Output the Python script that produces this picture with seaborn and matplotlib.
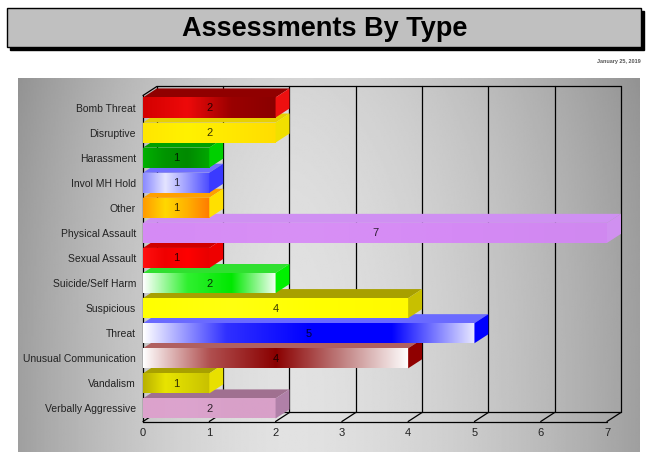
import numpy as np
import pandas as pd
import matplotlib
matplotlib.use('Agg')
import matplotlib.pyplot as plt
from matplotlib.colors import LinearSegmentedColormap, to_rgb
from matplotlib.patches import Polygon, Rectangle
import seaborn as sns

# data
types = ['Bomb Threat', 'Disruptive', 'Harassment', 'Invol MH Hold', 'Other',
         'Physical Assault', 'Sexual Assault', 'Suicide/Self Harm', 'Suspicious',
         'Threat', 'Unusual Communication', 'Vandalism', 'Verbally Aggressive']
counts = [2, 2, 1, 1, 1, 7, 1, 2, 4, 5, 4, 1, 2]
x_ticks = [0, 1, 2, 3, 4, 5, 6, 7]
title = 'Assessments By Type'
date_text = 'January 25, 2019'

# face gradients (left -> right), top face colour, side face colour
face_stops = [
    ['#d40000', '#ee0a0a', '#9a0000', '#8a0000'],
    ['#ffe600', '#fff200', '#ffe800', '#ffdd00'],
    ['#00b000', '#009400', '#008a00', '#00a800'],
    ['#8a8aff', '#e4e4ff', '#9a9aff', '#4a4aff'],
    ['#ff9a00', '#ffd800', '#ffb000', '#ff7a00'],
    ['#d58af5', '#d890f5', '#d58af5', '#d088f0'],
    ['#ff1010', '#f00000', '#ff0000', '#e80000'],
    ['#ffffff', '#30f030', '#00e800', '#f4fff4'],
    ['#ffff00', '#ffff10', '#ffff00', '#fffa00'],
    ['#ffffff', '#3030ff', '#0000ff', '#0000ff', '#e8e8ff'],
    ['#ffffff', '#b05050', '#8a0000', '#c08080', '#ffffff'],
    ['#b8b000', '#e8e400', '#d8d400', '#c8c000'],
    ['#dca2cc', '#dca4ce', '#d8a0c8', '#d8a0c8'],
]
top_colors = ['#900000', '#e8d000', '#00a000', '#7070ff', '#ffa000', '#cf90f2',
              '#d00000', '#30e030', '#a8a000', '#6a6aff', '#b06060', '#a8a000', '#a07090']
side_colors = ['#ee1010', '#f0e000', '#00d000', '#3a3aff', '#ffe000', '#d090f0',
               '#ee0000', '#00f000', '#c8c000', '#0000ff', '#900000', '#e8e000', '#b080a8']

sns.set_style('white')
plt.rcParams['font.family'] = ['Liberation Sans', 'DejaVu Sans']

W, H = 647, 467
fig = plt.figure(figsize=(W / 100, H / 100), dpi=100)

# background layer in pixel coordinates
bg = fig.add_axes([0, 0, 1, 1])
bg.set_xlim(0, W)
bg.set_ylim(H, 0)
bg.axis('off')

bg.add_patch(Rectangle((10, 11), 634, 39, facecolor='black', edgecolor='black', lw=1))
bg.add_patch(Rectangle((7, 8), 634, 39, facecolor='#c0c0c0', edgecolor='black', lw=1))
bg.text(325, 29, title, ha='center', va='center', fontsize=19.5, fontweight='bold', color='black')
bg.text(641, 62, date_text, ha='right', va='center', fontsize=4, fontweight='bold', color='#555555')

u = np.linspace(0, 1, 400)
v = np.linspace(0, 1, 240)
U, V = np.meshgrid(u, v)
c = 0.44
dist = np.where(U < c, (c - U) / c, (U - c) / (1 - c))
light = 0.885 - 0.26 * dist ** 1.6 - 0.05 * (1 - V) ** 3
bg.imshow(light, cmap='gray', vmin=0, vmax=1, extent=(18, 640, 452, 78),
          aspect='auto', interpolation='bilinear')

# main plot axes
x0px, x7px = 143, 607
ppu = (x7px - x0px) / 7
xmax = 7.25
yc0, ystep = 107.5, 25.08
ylo, yhi = 12.55, -0.9
bottom_px = yc0 + ylo * ystep
top_px = yc0 + yhi * ystep
ax = fig.add_axes([x0px / W, 1 - bottom_px / H, xmax * ppu / W, (bottom_px - top_px) / H])
ax.patch.set_alpha(0)

df = pd.DataFrame({'type': types, 'count': counts})
mid_colors = [s[len(s) // 2] for s in face_stops]
sns.barplot(data=df, x='count', y='type', hue='type', palette=mid_colors, legend=False,
            orient='h', width=0.8, saturation=1, linewidth=0, ax=ax)

dx, dy = 0.21, -0.36
n = len(types)
for i, p in enumerate(ax.patches):
    z = 10 + (n - i) * 3
    xa, ya = p.get_x(), p.get_y()
    w, h = p.get_width(), p.get_height()
    p.set_zorder(z)
    cmap = LinearSegmentedColormap.from_list('g%d' % i, face_stops[i])
    grad = np.linspace(0, 1, 256)[None, :]
    shade = cmap(grad)
    im = ax.imshow(shade, extent=[xa, xa + w, ya + h, ya], aspect='auto',
                   interpolation='bilinear', zorder=z + 0.1)
    im.set_clip_path(p)
    ax.add_patch(Polygon([(xa, ya), (xa + w, ya), (xa + w + dx, ya + dy), (xa + dx, ya + dy)],
                         closed=True, facecolor=top_colors[i], edgecolor='none', zorder=z))
    ax.add_patch(Polygon([(xa + w, ya), (xa + w, ya + h), (xa + w + dx, ya + h + dy),
                          (xa + w + dx, ya + dy)],
                         closed=True, facecolor=side_colors[i], edgecolor='none', zorder=z + 0.2))
    ax.text(xa + w / 2, ya + h / 2 + 0.02, str(counts[i]), ha='center', va='center',
            fontsize=8, color='black', alpha=0.78, zorder=z + 0.5)

# 3d frame
yfront = 12.52
yback = yfront + dy
ytop = -0.84
kw = dict(color='black', lw=0.9, zorder=2, clip_on=False)
ax.plot([dx, x_ticks[-1] + dx], [ytop, ytop], **kw)
ax.plot([0, x_ticks[-1]], [yfront, yfront], **kw)
ax.plot([dx, x_ticks[-1] + dx], [yback, yback], **kw)
for k in x_ticks:
    ax.plot([k + dx, k + dx], [ytop, yback], **kw)
    ax.plot([k, k + dx], [yfront, yback], **kw)
ax.plot([0, 0], [ytop - dy, yfront], **kw)
ax.plot([0, dx], [ytop - dy, ytop], **kw)

ax.set_xlim(0, xmax)
ax.set_ylim(ylo, yhi)
ax.set_xticks(x_ticks)
ax.set_xticklabels([str(k) for k in x_ticks])
ax.set_xlabel('')
ax.set_ylabel('')
ax.tick_params(axis='x', length=0, labelsize=8, pad=4, labelcolor='#222222')
ax.tick_params(axis='y', length=0, labelsize=7.5, pad=5, labelcolor='#222222')
for s in ax.spines.values():
    s.set_visible(False)
ax.grid(False)

fig.savefig('out.png', dpi=100)
